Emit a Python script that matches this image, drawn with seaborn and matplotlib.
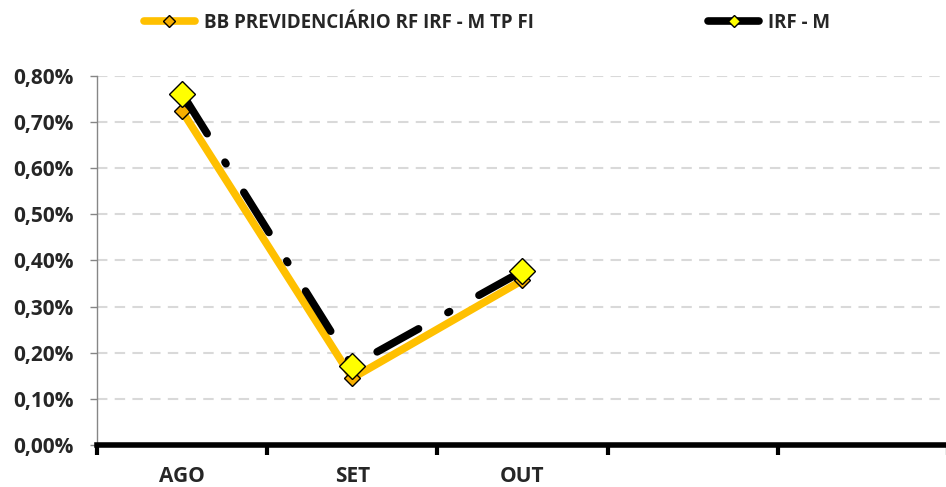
import matplotlib
matplotlib.use("Agg")
import matplotlib.pyplot as plt
import seaborn as sns
import pandas as pd
from matplotlib.lines import Line2D
from matplotlib.ticker import FuncFormatter, FixedLocator

# data (monthly returns, %)
months = ["AGO", "SET", "OUT", "", ""]
fundo_name = "BB PREVIDENCIÁRIO RF IRF - M TP FI"
bench_name = "IRF - M"
fundo_vals = [0.724, 0.145, 0.357]
bench_vals = [0.762, 0.172, 0.377]

df = pd.DataFrame({
    "pos": list(range(len(fundo_vals))) * 2,
    "valor": fundo_vals + bench_vals,
    "serie": [fundo_name] * len(fundo_vals) + [bench_name] * len(bench_vals),
})

sns.set_style("white")
fam = "Open Sans"
plt.rcParams['font.family'] = [fam, 'DejaVu Sans']
plt.rcParams['font.weight'] = 'bold'

fig = plt.figure(figsize=(9.46, 4.87), dpi=100)
ax = fig.add_axes([0.1025, 0.0862, 0.8995, 0.7578])

sns.lineplot(data=df[df.serie == fundo_name], x="pos", y="valor", ax=ax,
             color="#FFC000", linewidth=5.5, marker="D", markersize=8,
             markerfacecolor="#F7AE00", markeredgecolor="black",
             markeredgewidth=1, legend=False, zorder=3)
sns.lineplot(data=df[df.serie == bench_name], x="pos", y="valor", ax=ax,
             color="black", linewidth=5.5, marker="D", markersize=13,
             markerfacecolor="#FFFF00", markeredgecolor="black",
             markeredgewidth=1, legend=False, zorder=4)
for ln in ax.lines[1:]:
    ln.set_linestyle((0, (6.2, 4.4, 0.25, 4.4)))
    ln.set_dash_capstyle("round")

ax.set_xlim(-0.5, len(months) - 0.5)
ax.set_ylim(0, 0.8)
ax.set_xlabel("")
ax.set_ylabel("")

ax.set_yticks([i / 10 for i in range(9)])
ax.yaxis.set_major_formatter(FuncFormatter(lambda v, p: f"{v:.2f}%".replace(".", ",")))
ax.tick_params(axis="y", direction="out", length=5, width=1, color="#868686",
               labelsize=15, pad=12, left=True)

ax.set_xticks(range(len(months)))
ax.set_xticklabels(months)
ax.xaxis.set_minor_locator(FixedLocator([i - 0.5 for i in range(len(months) + 1)]))
ax.tick_params(axis="x", which="major", length=0, labelsize=15, pad=15)
ax.tick_params(axis="x", which="minor", direction="out", length=7, width=3,
               color="black", bottom=True)
for t in ax.get_xticklabels() + ax.get_yticklabels():
    t.set_fontweight("bold")

ax.yaxis.grid(True, color="#D9D9D9", linestyle=(0, (5, 3.5)), linewidth=1.5)
ax.set_axisbelow(True)
ax.grid(False, axis="x")

for s in ["top", "right"]:
    ax.spines[s].set_visible(False)
ax.spines["left"].set_color("#868686")
ax.spines["left"].set_linewidth(1)
ax.spines["bottom"].set_color("black")
ax.spines["bottom"].set_linewidth(4)
ax.spines["bottom"].set_zorder(5)

handles = [
    Line2D([], [], color="#FFC000", linewidth=5.5, marker="D", markersize=6,
           markerfacecolor="#F7AE00", markeredgecolor="black", markeredgewidth=1,
           solid_capstyle="round"),
    Line2D([], [], color="black", linewidth=5.5, marker="D", markersize=6,
           markerfacecolor="#FFFF00", markeredgecolor="black", markeredgewidth=1,
           solid_capstyle="round"),
]
fig.legend(handles, [fundo_name, bench_name], loc="center", ncol=2,
           bbox_to_anchor=(0.515, 0.953), frameon=False,
           handlelength=2.7, columnspacing=9.3, handletextpad=0.5,
           prop={"family": [fam, "DejaVu Sans"], "weight": "bold", "size": 13.5})

fig.savefig("out.png", dpi=100)
